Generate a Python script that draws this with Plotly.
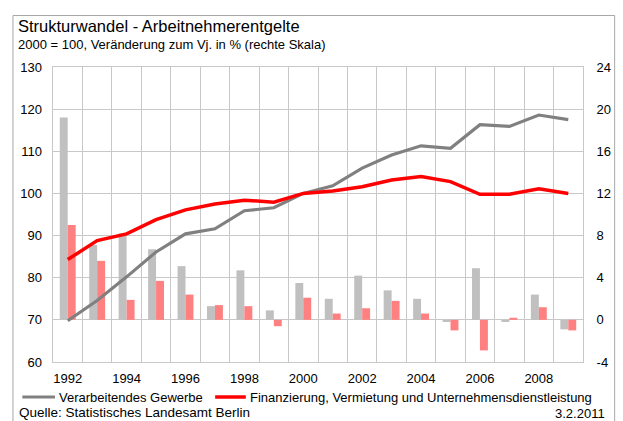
import plotly.graph_objects as go

# Jahre 1992-2009
years = list(range(1992, 2010))

# Index 2000 = 100 (linke Skala)
index_gewerbe = [69.8, 74.6, 80.2, 86.1, 90.4, 91.6, 95.9, 96.6, 100.0,
                 101.8, 106.0, 109.1, 111.3, 110.7, 116.3, 115.9, 118.6, 117.5]
index_finanz = [84.3, 88.8, 90.4, 93.8, 96.1, 97.5, 98.4, 97.9, 100.0,
                100.6, 101.6, 103.2, 104.0, 102.8, 99.8, 99.8, 101.1, 100.0]

# Veränderung zum Vorjahr in % (rechte Skala)
vj_gewerbe = [19.2, 7.1, 8.2, 6.7, 5.1, 1.3, 4.7, 0.9, 3.5,
              2.0, 4.2, 2.8, 2.0, -0.2, 4.9, -0.2, 2.4, -0.9]
vj_finanz = [9.0, 5.6, 1.9, 3.7, 2.4, 1.4, 1.3, -0.6, 2.1,
             0.6, 1.1, 1.8, 0.6, -1.0, -2.9, 0.2, 1.2, -1.0]

left_ticks = [60, 70, 80, 90, 100, 110, 120, 130]
right_ticks = [-4, 0, 4, 8, 12, 16, 20, 24]
x_ticks = [1992, 1994, 1996, 1998, 2000, 2002, 2004, 2006, 2008]

names = ["Verarbeitendes Gewerbe",
         "Finanzierung, Vermietung und Unternehmensdienstleistung"]
line_colors = ["#808080", "#ff0000"]
line_widths = [3.2, 3.5]

FONT = "Liberation Sans, Arial, sans-serif"
GRID = "#c8c8c8"

fig = go.Figure()

# Balken: Veränderung zum Vorjahr (rechte Skala -> yaxis)
fig.add_trace(go.Bar(x=years, y=vj_gewerbe, marker_color="#c0c0c0",
                     marker_line_width=0, name=names[0], yaxis="y"))
fig.add_trace(go.Bar(x=years, y=vj_finanz, marker_color="#ff8080",
                     marker_line_width=0, name=names[1], yaxis="y"))

# Linien: Index (linke Skala -> yaxis2, liegt über den Balken)
for vals, nm, col, lw in zip([index_gewerbe, index_finanz], names, line_colors, line_widths):
    fig.add_trace(go.Scatter(x=years, y=vals, mode="lines", name=nm,
                             line=dict(color=col, width=lw), yaxis="y2"))

W, H = 623, 421
L, R, T, B = 53, 34, 67, 59
pw, ph = W - L - R, H - T - B


def px(x):
    return (x - L) / pw


def py(y):
    return (H - B - y) / ph


# Legende unter dem Diagramm: Linienmuster + Text
legend_y = 397
legend_items = [(22, 55, 57), (217, 248, 250)]
shapes = [
    # äußerer Rahmen
    dict(type="rect", xref="paper", yref="paper",
         x0=px(12.5), x1=px(621), y0=py(430), y1=py(15.5),
         line=dict(color="#a8a8a8", width=1), fillcolor="rgba(0,0,0,0)",
         layer="below"),
]
annotations = []
for (x0, x1, xt), nm, col, lw in zip(legend_items, names, line_colors, line_widths):
    shapes.append(dict(type="line", xref="paper", yref="paper",
                       x0=px(x0), x1=px(x1), y0=py(legend_y), y1=py(legend_y),
                       line=dict(color=col, width=lw)))
    annotations.append(dict(text=nm, xref="paper", yref="paper", x=px(xt),
                            y=py(legend_y), xanchor="left", yanchor="middle",
                            showarrow=False, font=dict(size=13)))

annotations += [
    dict(text="Strukturwandel - Arbeitnehmerentgelte", xref="paper", yref="paper",
         x=px(16), y=py(26), xanchor="left", yanchor="middle", showarrow=False,
         font=dict(size=16.5)),
    dict(text="2000 = 100, Veränderung zum Vj. in % (rechte Skala)", xref="paper",
         yref="paper", x=px(16), y=py(44.5), xanchor="left", yanchor="middle",
         showarrow=False, font=dict(size=13)),
    dict(text="Quelle: Statistisches Landesamt Berlin", xref="paper", yref="paper",
         x=px(17), y=py(412.5), xanchor="left", yanchor="middle", showarrow=False,
         font=dict(size=13.5)),
    dict(text="3.2.2011", xref="paper", yref="paper",
         x=px(613), y=py(413), xanchor="right", yanchor="middle", showarrow=False,
         font=dict(size=13)),
]

fig.update_layout(
    width=W, height=H,
    margin=dict(l=L, r=R, t=T, b=B, pad=0),
    paper_bgcolor="white", plot_bgcolor="white",
    font=dict(family=FONT, size=13, color="#000000"),
    showlegend=False,
    barmode="group", bargap=0.46, bargroupgap=0,
    xaxis=dict(
        range=[1991.5, 2009.5], tickvals=x_ticks, ticktext=[str(v) for v in x_ticks],
        showgrid=False, zeroline=False, ticks="",
        showline=True, linecolor=GRID, linewidth=1, mirror=True,
        tickfont=dict(size=13), ticklabelstandoff=4,
        minor=dict(tickvals=[y + 0.5 for y in range(1991, 2010)],
                   showgrid=True, gridcolor=GRID, gridwidth=1, ticks=""),
    ),
    yaxis=dict(
        side="right", range=[-4, 24], tickvals=right_ticks,
        ticktext=[str(v) for v in right_ticks],
        showgrid=True, gridcolor=GRID, gridwidth=1, zeroline=False, ticks="",
        showline=True, linecolor=GRID, linewidth=1, mirror=True,
        tickfont=dict(size=13), ticklabelstandoff=10,
    ),
    yaxis2=dict(
        side="left", overlaying="y", range=[60, 130], tickvals=left_ticks,
        showgrid=False, zeroline=False, ticks="", showline=False,
        tickfont=dict(size=13), ticklabelstandoff=10,
    ),
    shapes=shapes,
    annotations=annotations,
)

fig.write_html("out.html")
